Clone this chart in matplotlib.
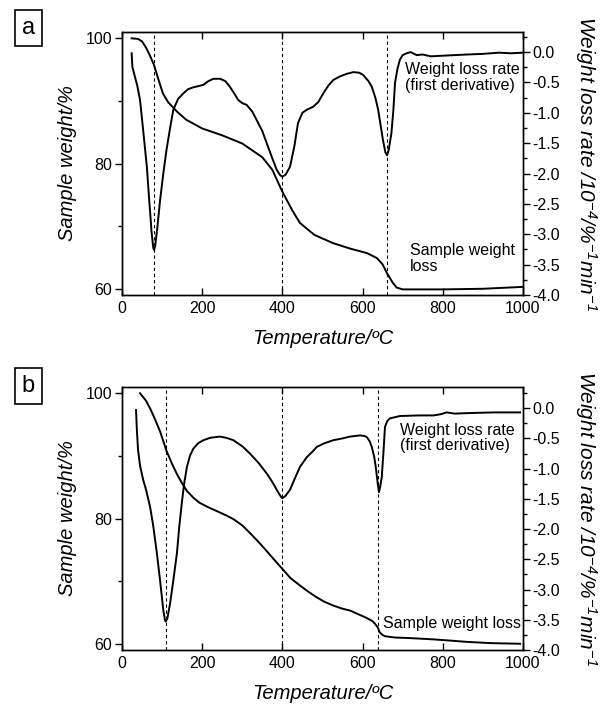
import numpy as np
import matplotlib
matplotlib.use("Agg")
import matplotlib.pyplot as plt
from matplotlib.ticker import MultipleLocator

plt.rcParams['font.family'] = ['Liberation Sans', 'DejaVu Sans']
plt.rcParams['mathtext.fontset'] = 'custom'
plt.rcParams['mathtext.rm'] = 'Liberation Sans:italic'
plt.rcParams['mathtext.it'] = 'Liberation Sans:italic'

# ---- panel a ----
tg_a_x = [24, 40, 50, 60, 70, 80, 90, 102, 115, 137, 160, 200, 250, 300, 350, 375,
          400, 425, 444, 480, 526, 570, 611, 636, 650, 661, 675, 685, 700, 800, 900, 1000]
tg_a_y = [100.0, 99.9, 99.5, 98.5, 97.2, 95.7, 93.6, 91.2, 89.8, 88.3, 87.0, 85.6, 84.5,
          83.2, 81.0, 79.0, 75.5, 72.5, 70.5, 68.6, 67.3, 66.4, 65.7, 64.9, 63.9, 62.5,
          61.0, 60.2, 59.9, 59.9, 60.0, 60.3]

dtg_a_x = [24, 26, 30, 38, 45, 53, 62, 68, 74, 78, 80, 83, 88, 95, 103, 111, 120, 128,
           140, 153, 165, 178, 203, 215, 228, 245, 258, 269, 280, 290, 300, 311, 325, 336,
           350, 361, 375, 386, 395, 400, 408, 419, 430, 439, 450, 461, 477, 490, 502, 515,
           527, 544, 560, 577, 592, 602, 615, 623, 632, 639, 651, 657, 661, 665, 672, 677,
           681, 687, 693, 700, 710, 720, 735, 750, 770, 800, 830, 860, 900, 940, 970, 1000]
dtg_a_y = [-0.02, -0.25, -0.35, -0.55, -0.79, -1.3, -1.89, -2.45, -2.98, -3.22, -3.26,
           -3.18, -2.9, -2.44, -2.0, -1.61, -1.25, -0.95, -0.77, -0.68, -0.61, -0.58,
           -0.54, -0.48, -0.44, -0.44, -0.48, -0.57, -0.68, -0.79, -0.84, -0.87, -0.98,
           -1.12, -1.30, -1.50, -1.75, -1.94, -2.03, -2.05, -2.02, -1.89, -1.55, -1.17,
           -1.00, -0.95, -0.90, -0.82, -0.68, -0.55, -0.46, -0.40, -0.36, -0.33, -0.34,
           -0.38, -0.48, -0.57, -0.75, -0.95, -1.45, -1.65, -1.70, -1.62, -1.34, -0.95,
           -0.51, -0.28, -0.13, -0.05, -0.02, 0.0, -0.05, -0.04, -0.07, -0.06, -0.05,
           -0.04, -0.03, -0.01, -0.02, -0.01]
peaks_a = [80, 400, 661]

# ---- panel b ----
tg_b_x = [45, 60, 70, 82, 95, 111, 125, 137, 150, 162, 180, 194, 215, 236, 260, 278,
          300, 319, 340, 361, 380, 398, 420, 444, 465, 486, 505, 527, 550, 569, 590, 611,
          625, 631, 638, 643, 650, 656, 680, 720, 777, 820, 860, 920, 993]
tg_b_y = [100.0, 98.8, 97.6, 95.9, 93.9, 90.8, 88.7, 87.1, 85.6, 84.4, 83.2, 82.5, 81.8,
          81.2, 80.5, 79.9, 78.9, 77.7, 76.3, 74.8, 73.4, 72.1, 70.5, 69.3, 68.3, 67.4,
          66.7, 66.1, 65.6, 65.3, 64.7, 64.1, 63.6, 63.2, 62.6, 61.8, 61.4, 61.2, 61.0,
          60.9, 60.7, 60.5, 60.3, 60.1, 60.0]

dtg_b_x = [35, 37, 40, 45, 53, 60, 70, 78, 87, 95, 103, 107, 109, 113, 120, 128, 137,
           143, 149, 155, 162, 170, 178, 190, 203, 220, 244, 260, 278, 300, 319, 340, 361,
           375, 386, 395, 400, 408, 419, 430, 444, 461, 475, 486, 505, 527, 550, 569, 594,
           605, 611, 618, 623, 629, 633, 638, 641, 644, 648, 652, 656, 662, 668, 693, 740,
           777, 795, 810, 830, 870, 930, 993]
dtg_b_y = [-0.03, -0.35, -0.69, -0.95, -1.19, -1.35, -1.63, -1.95, -2.40, -2.85, -3.34,
           -3.50, -3.53, -3.48, -3.23, -2.85, -2.40, -1.95, -1.58, -1.25, -0.97, -0.78,
           -0.67, -0.58, -0.53, -0.49, -0.47, -0.49, -0.53, -0.63, -0.75, -0.90, -1.08,
           -1.22, -1.35, -1.45, -1.49, -1.45, -1.35, -1.18, -0.97, -0.81, -0.72, -0.64,
           -0.58, -0.53, -0.50, -0.47, -0.45, -0.46, -0.48, -0.55, -0.64, -0.80, -0.97,
           -1.25, -1.39, -1.30, -1.14, -0.75, -0.31, -0.21, -0.17, -0.13, -0.12, -0.12,
           -0.10, -0.07, -0.09, -0.08, -0.07, -0.07]
peaks_b = [109, 400, 638]

xlabel = "Temperature/ºC"
ylabel_left = "Sample weight/%"
ylabel_right = r"Weight loss rate /10$^{-4}$/%$^{-1}$min$^{-1}$"

fig = plt.figure(figsize=(6.01, 7.07), dpi=100)


def draw_panel(rect, letter, letter_y, tg_x, tg_y, dtg_x, dtg_y, peaks, dtg_top):
    ax = fig.add_axes(rect)
    ax2 = ax.twinx()
    ax.plot(tg_x, tg_y, color='black', lw=1.4)
    ax2.plot(dtg_x, dtg_y, color='black', lw=1.4)
    for p in peaks:
        ax.axvline(p, color='black', ls=(0, (3, 2.5)), lw=0.8)

    ax.set_xlim(0, 1000)
    ax.set_ylim(59, 101)
    ax2.set_ylim(-4.0, dtg_top)

    ax.set_xticks([0, 200, 400, 600, 800, 1000])
    ax.set_yticks([60, 80, 100])
    ax.yaxis.set_minor_locator(MultipleLocator(10))
    ax2.set_yticks(np.arange(-4.0, 0.01, 0.5))
    ax2.yaxis.set_minor_locator(MultipleLocator(0.25))
    ax2.yaxis.set_major_formatter(matplotlib.ticker.FormatStrFormatter('%.1f'))

    ax.tick_params(axis='x', direction='in', top=True, length=5, width=1,
                   labelsize=11.5, pad=4)
    ax.tick_params(axis='y', which='major', direction='out', length=5, width=1,
                   labelsize=11.5, pad=2)
    ax.tick_params(axis='y', which='minor', direction='out', length=3, width=1)
    ax2.tick_params(axis='y', which='major', direction='out', length=5, width=1,
                    labelsize=11.5, pad=2)
    ax2.tick_params(axis='y', which='minor', direction='out', length=3, width=1)
    for a in (ax, ax2):
        for s in a.spines.values():
            s.set_linewidth(1.0)

    ax.set_xlabel(xlabel, fontsize=14.5, style='italic', labelpad=10)
    ax.set_ylabel(ylabel_left, fontsize=14.5, style='italic', labelpad=6)
    ax2.set_ylabel(ylabel_right, fontsize=15, style='italic', rotation=-90,
                   va='bottom', labelpad=9)

    fig.text(0.047, letter_y, letter, fontsize=17, ha='center', va='center',
             bbox=dict(boxstyle='square,pad=0.3', fc='white', ec='black', lw=1.2))
    return ax, ax2


ax_a, ax_a2 = draw_panel([0.203, 0.5827, 0.667, 0.372], 'a', 0.960,
                         tg_a_x, tg_a_y, dtg_a_x, dtg_a_y, peaks_a, 0.33)
ax_a2.text(706, -0.17, "Weight loss rate\n(first derivative)", fontsize=11.5,
           va='top', ha='left', linespacing=1.05)
ax_a.text(718, 67.3, "Sample weight\nloss", fontsize=11.5, va='top', ha='left',
          linespacing=1.05)

ax_b, ax_b2 = draw_panel([0.203, 0.0806, 0.667, 0.372], 'b', 0.4535,
                         tg_b_x, tg_b_y, dtg_b_x, dtg_b_y, peaks_b, 0.35)
ax_b2.text(693, -0.24, "Weight loss rate\n(first derivative)", fontsize=11.5,
           va='top', ha='left', linespacing=1.05)
ax_b.text(651, 63.3, "Sample weight loss", fontsize=11.5, va='center', ha='left')

fig.savefig("out.png", dpi=100)
